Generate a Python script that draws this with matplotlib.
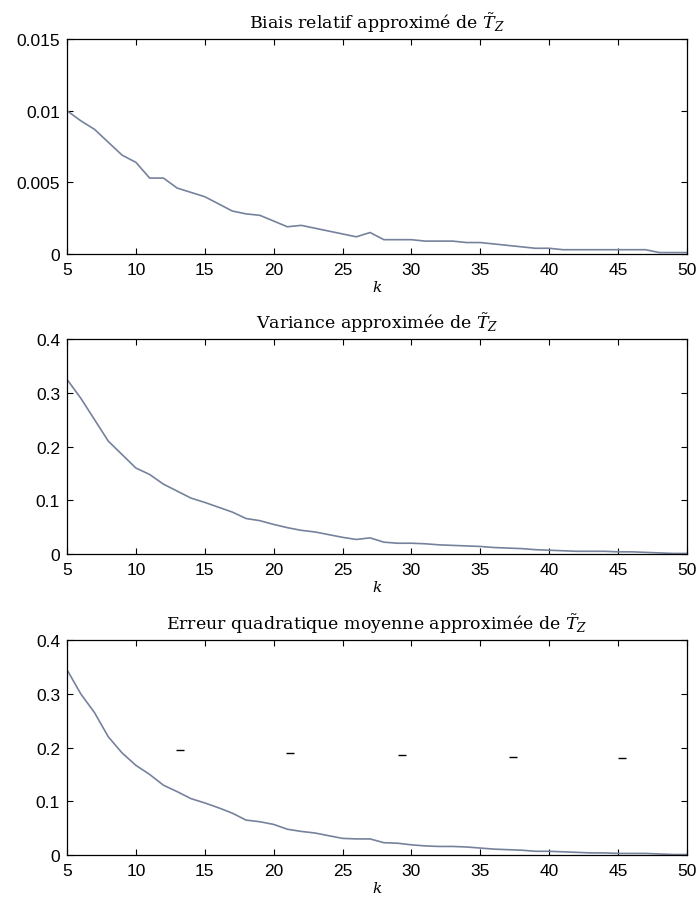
import matplotlib
matplotlib.use("Agg")
import matplotlib.pyplot as plt

# k values and the three approximated curves
k = list(range(5, 51))

biais = [0.0100, 0.0093, 0.0087, 0.0078, 0.0069, 0.0064, 0.0053, 0.0053, 0.0046, 0.0043,
         0.0040, 0.0035, 0.0030, 0.0028, 0.0027, 0.0023, 0.0019, 0.0020, 0.0018, 0.0016,
         0.0014, 0.0012, 0.0015, 0.0010, 0.0010, 0.0010, 0.0009, 0.0009, 0.0009, 0.0008,
         0.0008, 0.0007, 0.0006, 0.0005, 0.0004, 0.0004, 0.0003, 0.0003, 0.0003, 0.0003,
         0.0003, 0.0003, 0.0003, 0.0001, 0.0001, 0.0001]

variance = [0.325, 0.290, 0.250, 0.210, 0.185, 0.160, 0.148, 0.130, 0.117, 0.104,
            0.096, 0.087, 0.078, 0.066, 0.062, 0.055, 0.049, 0.044, 0.041, 0.036,
            0.031, 0.027, 0.030, 0.022, 0.020, 0.020, 0.019, 0.017, 0.016, 0.015,
            0.014, 0.012, 0.011, 0.010, 0.008, 0.007, 0.006, 0.005, 0.005, 0.005,
            0.004, 0.004, 0.003, 0.002, 0.001, 0.001]

eqm = [0.345, 0.300, 0.265, 0.220, 0.190, 0.167, 0.150, 0.130, 0.118, 0.105,
       0.097, 0.088, 0.078, 0.065, 0.062, 0.057, 0.048, 0.044, 0.041, 0.036,
       0.031, 0.030, 0.030, 0.023, 0.022, 0.019, 0.017, 0.016, 0.016, 0.015,
       0.013, 0.011, 0.010, 0.009, 0.007, 0.007, 0.006, 0.005, 0.004, 0.004,
       0.003, 0.003, 0.003, 0.002, 0.001, 0.001]

# stray short dashes in the last panel
dash_x = [13.2, 21.2, 29.3, 37.4, 45.3]
dash_y = [0.195, 0.190, 0.186, 0.183, 0.180]

titles = [r"Biais relatif approximé de $\tilde{T}_Z$",
          r"Variance approximée de $\tilde{T}_Z$",
          r"Erreur quadratique moyenne approximée de $\tilde{T}_Z$"]
series = [biais, variance, eqm]
ymax = [0.015, 0.4, 0.4]
yticks = [[0, 0.005, 0.01, 0.015], [0, 0.1, 0.2, 0.3, 0.4], [0, 0.1, 0.2, 0.3, 0.4]]
yticklabels = [["0", "0.005", "0.01", "0.015"],
               ["0", "0.1", "0.2", "0.3", "0.4"],
               ["0", "0.1", "0.2", "0.3", "0.4"]]

plt.rcParams['mathtext.fontset'] = 'dejavuserif'
fig = plt.figure(figsize=(6.97, 9.03), dpi=100)

bottoms = [0.7176, 0.3854, 0.0520]
for i in range(3):
    ax = fig.add_axes([0.0961, bottoms[i], 0.8895, 0.238])
    ax.plot(k, series[i], color='#76829c', linewidth=1.2)
    if i == 2:
        ax.plot(dash_x, dash_y, linestyle='none', marker='_', markersize=6,
                color='black', markeredgewidth=1.0)
    ax.set_xlim(5, 50)
    ax.set_ylim(0, ymax[i])
    ax.set_xticks(range(5, 51, 5))
    ax.set_yticks(yticks[i])
    ax.set_yticklabels(yticklabels[i])
    ax.tick_params(direction='in', top=True, right=True, length=4.5,
                   labelsize=12.5)
    ax.tick_params(axis='x', pad=6)
    ax.tick_params(axis='y', pad=5)
    for lab in ax.get_xticklabels() + ax.get_yticklabels():
        lab.set_family('Liberation Sans')
    for sp in ax.spines.values():
        sp.set_linewidth(0.9)
    ax.set_title(titles[i], fontsize=12.5, family='DejaVu Serif', pad=8)
    ax.set_xlabel(r"$k$", fontsize=11, labelpad=1)

fig.savefig("out.png", dpi=100)
